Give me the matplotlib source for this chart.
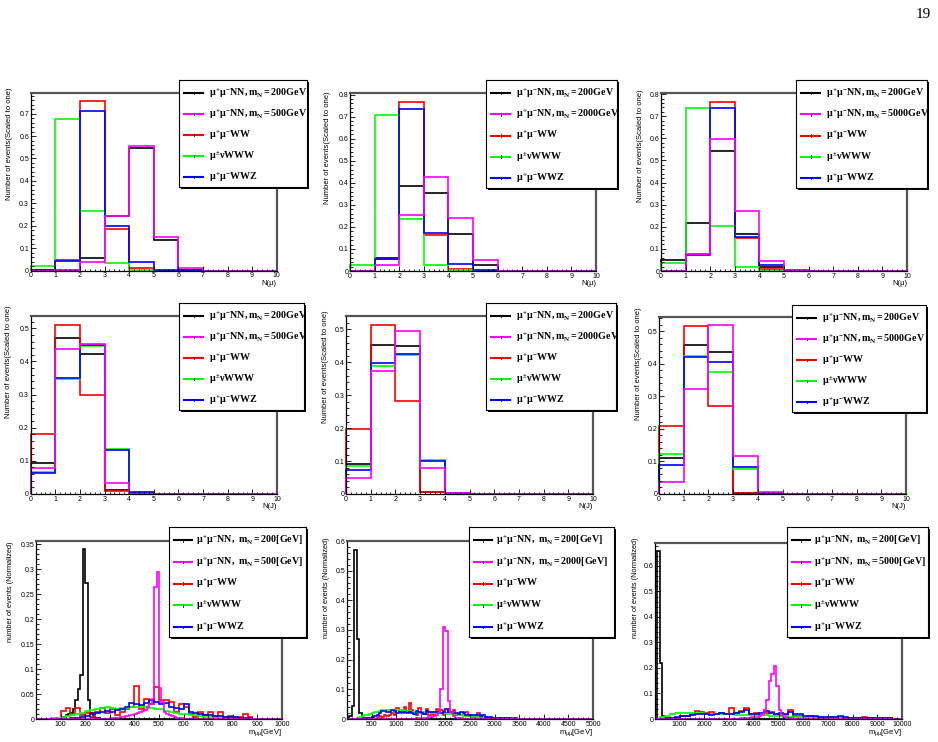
import numpy as np
import matplotlib
matplotlib.use('Agg')
import matplotlib.pyplot as plt
from matplotlib.ticker import MultipleLocator, FuncFormatter
from matplotlib.patches import Rectangle

plt.rcParams['font.family'] = ['Liberation Sans', 'DejaVu Sans']
plt.rcParams['mathtext.fontset'] = 'custom'
plt.rcParams['mathtext.rm'] = 'Liberation Serif:bold'
plt.rcParams['mathtext.it'] = 'Liberation Serif:bold'
plt.rcParams['mathtext.bf'] = 'Liberation Serif:bold'
plt.rcParams['mathtext.sf'] = 'Liberation Sans'

# ---------------- data ----------------
# row 1: N(mu), bins 0..10
nmu_p1 = {
    'nn200': [0.003, 0.003, 0.055, 0.245, 0.545, 0.135, 0.004, 0, 0, 0],
    'nnX':   [0, 0.002, 0.04, 0.245, 0.555, 0.15, 0.01, 0, 0, 0],
    'ww':    [0, 0.048, 0.755, 0.185, 0.012, 0, 0, 0, 0, 0],
    'www':   [0.02, 0.678, 0.265, 0.033, 0.002, 0, 0, 0, 0, 0],
    'wwz':   [0, 0.043, 0.71, 0.2, 0.038, 0.003, 0, 0, 0, 0],
}
nmu_p2 = {
    'nn200': [0.002, 0.06, 0.385, 0.355, 0.17, 0.027, 0.002, 0, 0, 0],
    'nnX':   [0, 0.025, 0.253, 0.425, 0.242, 0.052, 0.002, 0, 0, 0],
    'ww':    [0, 0.055, 0.768, 0.165, 0.01, 0.002, 0, 0, 0, 0],
    'www':   [0.027, 0.708, 0.236, 0.025, 0.003, 0, 0, 0, 0, 0],
    'wwz':   [0, 0.055, 0.733, 0.172, 0.032, 0.005, 0, 0, 0, 0],
}
nmu_p3 = {
    'nn200': [0.048, 0.218, 0.543, 0.168, 0.02, 0.003, 0, 0, 0, 0],
    'nnX':   [0, 0.077, 0.597, 0.273, 0.045, 0.005, 0, 0, 0, 0],
    'ww':    [0, 0.075, 0.763, 0.15, 0.01, 0, 0, 0, 0, 0],
    'www':   [0.036, 0.738, 0.205, 0.018, 0.002, 0, 0, 0, 0, 0],
    'wwz':   [0, 0.073, 0.738, 0.155, 0.025, 0.003, 0, 0, 0, 0],
}
# row 2: N(J), bins 0..10
nj_p4 = {
    'nn200': [0.093, 0.47, 0.423, 0.012, 0.002, 0, 0, 0, 0, 0],
    'nnX':   [0.077, 0.437, 0.452, 0.033, 0, 0, 0, 0, 0, 0],
    'ww':    [0.182, 0.51, 0.3, 0.008, 0, 0, 0, 0, 0, 0],
    'www':   [0.067, 0.348, 0.447, 0.135, 0.004, 0, 0, 0, 0, 0],
    'wwz':   [0.063, 0.35, 0.45, 0.132, 0.005, 0, 0, 0, 0, 0],
}
nj_p5 = {
    'nn200': [0.091, 0.453, 0.45, 0.005, 0.001, 0, 0, 0, 0, 0],
    'nnX':   [0.049, 0.373, 0.495, 0.08, 0.003, 0, 0, 0, 0, 0],
    'ww':    [0.198, 0.513, 0.284, 0.005, 0, 0, 0, 0, 0, 0],
    'www':   [0.085, 0.388, 0.422, 0.103, 0.002, 0, 0, 0, 0, 0],
    'wwz':   [0.074, 0.397, 0.427, 0.1, 0.002, 0, 0, 0, 0, 0],
}
nj_p6 = {
    'nn200': [0.11, 0.457, 0.435, 0.003, 0, 0, 0, 0, 0, 0],
    'nnX':   [0.037, 0.323, 0.518, 0.117, 0.007, 0, 0, 0, 0, 0],
    'ww':    [0.208, 0.515, 0.27, 0.004, 0, 0, 0, 0, 0, 0],
    'www':   [0.123, 0.425, 0.375, 0.076, 0.002, 0, 0, 0, 0, 0],
    'wwz':   [0.089, 0.42, 0.405, 0.084, 0.003, 0, 0, 0, 0, 0],
}

# row 3: m_mumu, (first bin low edge, bin width, values)
mll_p7 = {
    'nn200': (100, 10, [0.003, 0.005, 0.008, 0.01, 0.012, 0.02, 0.038, 0.06, 0.088, 0.34,
                        0.272, 0.038, 0.012, 0.005, 0.003, 0.002, 0.001]),
    'nnX':   (300, 10, [0.002, 0.002, 0.003, 0.003, 0.004, 0.005, 0.006, 0.007, 0.008, 0.009,
                        0.01, 0.012, 0.014, 0.016, 0.019, 0.024, 0.03, 0.04, 0.265, 0.295,
                        0.062, 0.035, 0.015, 0.01, 0.008, 0.006, 0.004, 0.003, 0.002, 0.002, 0.001]),
    'ww':    (100, 20, [0.017, 0.022, 0.01, 0.022, 0.008, 0.012, 0.005, 0.015, 0.022, 0.012,
                        0.02, 0.008, 0.015, 0.02, 0.025, 0.067, 0.02, 0.04, 0.03, 0.065,
                        0.038, 0.038, 0.035, 0.015, 0.03, 0.025, 0.01, 0.005, 0.015, 0.008,
                        0.015, 0.005, 0.015, 0.004, 0.006, 0.003, 0.005, 0.01, 0.004]),
    'www':   (60, 20, [0.002, 0.003, 0.005, 0.007, 0.009, 0.011, 0.013, 0.016, 0.018, 0.02,
                       0.022, 0.025, 0.022, 0.021, 0.022, 0.023, 0.024, 0.025, 0.024, 0.024,
                       0.023, 0.021, 0.02, 0.017, 0.015, 0.013, 0.011, 0.01, 0.009, 0.008,
                       0.007, 0.005, 0.004, 0.003, 0.003, 0.002, 0.002, 0.001, 0.001]),
    'wwz':   (140, 20, [0.002, 0.003, 0.005, 0.007, 0.01, 0.012, 0.014, 0.016, 0.015, 0.018,
                        0.02, 0.025, 0.032, 0.03, 0.028, 0.032, 0.038, 0.034, 0.03, 0.033,
                        0.025, 0.022, 0.02, 0.03, 0.015, 0.012, 0.01, 0.009, 0.008, 0.007,
                        0.006, 0.005, 0.004, 0.004, 0.003, 0.003, 0.002, 0.001]),
}
mll_p8 = {
    'nn200': (50, 50, [0.01, 0.045, 0.57, 0.27, 0.02, 0.005, 0.003, 0.002, 0.001]),
    'nnX':   (1400, 50, [0.002, 0.003, 0.003, 0.004, 0.005, 0.006, 0.007, 0.009, 0.012, 0.02,
                         0.1, 0.31, 0.295, 0.06, 0.022, 0.01, 0.005, 0.003, 0.002, 0.001]),
    'ww':    (600, 50, [0.004, 0.01, 0.008, 0.012, 0.01, 0.015, 0.02, 0.012, 0.036, 0.025,
                        0.02, 0.04, 0.025, 0.053, 0.03, 0.02, 0.015, 0.036, 0.025, 0.018,
                        0.035, 0.015, 0.02, 0.015, 0.035, 0.02, 0.03, 0.015, 0.02, 0.035,
                        0.02, 0.03, 0.015, 0.02, 0.012, 0.015, 0.022, 0.01, 0.015, 0.008,
                        0.01, 0.02, 0.008, 0.006, 0.008, 0.005, 0.004, 0.005, 0.003, 0.002,
                        0.002, 0.001, 0.002, 0.001]),
    'www':   (200, 50, [0.003, 0.006, 0.009, 0.012, 0.014, 0.016, 0.019, 0.022, 0.025, 0.027,
                        0.029, 0.03, 0.031, 0.032, 0.032, 0.031, 0.03, 0.03, 0.029, 0.028,
                        0.027, 0.026, 0.025, 0.025, 0.024, 0.024, 0.023, 0.023, 0.022, 0.022,
                        0.021, 0.021, 0.02, 0.02, 0.019, 0.019, 0.018, 0.017, 0.016, 0.015,
                        0.014, 0.013, 0.012, 0.011, 0.01, 0.01, 0.009, 0.008, 0.008, 0.007,
                        0.006, 0.006, 0.005, 0.005, 0.004, 0.004, 0.003, 0.003, 0.003, 0.002,
                        0.002, 0.002, 0.001, 0.001, 0.001]),
    'wwz':   (450, 50, [0.003, 0.006, 0.01, 0.012, 0.02, 0.028, 0.026, 0.022, 0.025, 0.03,
                        0.028, 0.02, 0.022, 0.025, 0.025, 0.02, 0.022, 0.02, 0.018, 0.027,
                        0.025, 0.02, 0.018, 0.028, 0.025, 0.024, 0.022, 0.025, 0.02, 0.02,
                        0.023, 0.035, 0.025, 0.025, 0.02, 0.02, 0.018, 0.022, 0.02, 0.015,
                        0.015, 0.012, 0.013, 0.012, 0.013, 0.01, 0.012, 0.008, 0.006, 0.006,
                        0.005, 0.004, 0.004, 0.003, 0.003, 0.002, 0.002, 0.002, 0.001, 0.002,
                        0.001, 0.001, 0.001]),
}
mll_p9 = {
    'nn200': (100, 100, [0.66, 0.22, 0.012, 0.004, 0.002]),
    'nnX':   (3500, 100, [0.002, 0.003, 0.004, 0.005, 0.006, 0.007, 0.008, 0.01, 0.02, 0.035,
                          0.074, 0.15, 0.177, 0.207, 0.13, 0.035, 0.015, 0.008, 0.005, 0.003,
                          0.002]),
    'ww':    (800, 200, [0.005, 0.01, 0.012, 0.018, 0.032, 0.028, 0.025, 0.028, 0.02, 0.022,
                          0.018, 0.045, 0.022, 0.03, 0.045, 0.02, 0.022, 0.015, 0.025, 0.028,
                          0.02, 0.012, 0.015, 0.035, 0.01, 0.012, 0.008, 0.01, 0.006, 0.008,
                          0.005, 0.006, 0.004, 0.005, 0.003, 0.004, 0.002, 0.003, 0.008, 0.003,
                          0.002, 0.002, 0.005, 0.002]),
    'www':   (200, 200, [0.006, 0.012, 0.018, 0.022, 0.025, 0.025, 0.024, 0.023, 0.022, 0.021,
                          0.02, 0.02, 0.019, 0.018, 0.018, 0.017, 0.017, 0.016, 0.016, 0.015,
                          0.015, 0.014, 0.013, 0.012, 0.011, 0.01, 0.009, 0.008, 0.007, 0.006,
                          0.005, 0.005, 0.004, 0.004, 0.003, 0.003, 0.002, 0.002, 0.002, 0.001,
                          0.001, 0.001]),
    'wwz':   (600, 200, [0.003, 0.006, 0.01, 0.012, 0.014, 0.018, 0.02, 0.018, 0.015, 0.02,
                          0.022, 0.02, 0.018, 0.025, 0.028, 0.035, 0.02, 0.02, 0.025, 0.03,
                          0.025, 0.02, 0.025, 0.018, 0.027, 0.018, 0.02, 0.012, 0.01, 0.01,
                          0.008, 0.009, 0.008, 0.007, 0.01, 0.006, 0.005, 0.005, 0.004, 0.004,
                          0.003, 0.003, 0.003, 0.002, 0.002]),
}

heavy_mass = ['500', '2000', '5000']
order = ['nn200', 'ww', 'www', 'wwz', 'nnX']     # drawing order (magenta on top)
legend_order = ['nn200', 'nnX', 'ww', 'www', 'wwz']
colors = {'nn200': '#000000', 'nnX': '#ff00ff', 'ww': '#ff0000',
          'www': '#00ff00', 'wwz': '#0000ff'}

# ---------------- layout (pixels) ----------------
W, H = 938, 742
fig = plt.figure(figsize=(W / 100, H / 100), dpi=100)

ax_boxes = [(30.7, 276.7, 92.7, 270.7), (350, 596, 93, 271), (661, 907, 93, 271),
            (30.7, 277, 316, 494), (346, 593, 316, 494), (659, 906, 317, 494),
            (36, 282, 541, 719), (347, 593, 541, 719), (655, 902, 543, 719)]
leg_boxes = [(179, 307, 80, 187), (486, 617, 80, 188), (796, 927, 80, 188),
             (179, 304, 303, 410), (486, 616, 303, 410), (792, 926, 305, 412),
             (169, 306, 527, 637), (469, 614, 527, 637), (787, 928, 527, 637)]
ylab_pos = [(10, 87), (327, 92), (640, 90), (9, 305), (325, 310), (638, 308),
            (11, 542), (326, 538), (635, 538)]
ymax = [0.793, 0.807, 0.805, 0.537, 0.541, 0.544, 0.357, 0.6, 0.69]


def px_axes(box):
    l, r, t, b = box
    return fig.add_axes([l / W, 1 - b / H, (r - l) / W, (b - t) / H])


fmt = FuncFormatter(lambda v, p: '%g' % round(v, 4))


def style_axes(ax):
    for s in ['left', 'bottom']:
        ax.spines[s].set_linewidth(0.9)
    for s in ['top', 'right']:
        ax.spines[s].set_color('#555555')
        ax.spines[s].set_linewidth(1.6)
    ax.tick_params(which='both', direction='in', top=False, right=False,
                   labelsize=5, pad=1.2, width=0.6)
    ax.tick_params(which='major', length=3.6)
    ax.tick_params(which='minor', length=1.8)
    ax.yaxis.set_major_formatter(fmt)


def draw_legend(box, labels, line_end, text_x):
    l, r, t, b = box
    w, h = r - l, b - t
    fig.add_artist(Rectangle(((l + 2) / W, 1 - (b + 2) / H), w / W, h / H,
                             transform=fig.transFigure, facecolor='black',
                             edgecolor='none', zorder=4))
    lax = px_axes(box)
    lax.set_zorder(5)
    lax.set_xlim(0, w)
    lax.set_ylim(h, 0)
    lax.set_xticks([])
    lax.set_yticks([])
    for s in lax.spines.values():
        s.set_linewidth(0.8)
    for i, key in enumerate(legend_order):
        y = h * (0.12 + 0.197 * i)
        lax.plot([5, line_end], [y, y], color=colors[key], lw=1.5)
        xm = (5 + line_end) / 2
        lax.plot([xm, xm], [y - 1.3, y + 1.3], color='k', lw=0.6)
        lax.text(text_x, y, labels[i], fontsize=7.2, va='center', ha='left')


top_data = [nmu_p1, nmu_p2, nmu_p3, nj_p4, nj_p5, nj_p6]
bot_data = [mll_p7, mll_p8, mll_p9]
xmax_bot = [1000, 5000, 10000]
xstep_bot = [100, 500, 1000]

for k in range(9):
    ax = px_axes(ax_boxes[k])
    style_axes(ax)
    col = k % 3
    m = heavy_mass[col]
    if k < 6:
        data = top_data[k]
        edges = np.arange(11)
        for key in order:
            ax.stairs(data[key], edges, color=colors[key], lw=1.2, baseline=0,
                      clip_on=False)
        ax.set_xlim(0, 10)
        ax.set_xticks(np.arange(0, 11, 1))
        ax.xaxis.set_minor_locator(MultipleLocator(0.2))
        ax.yaxis.set_major_locator(MultipleLocator(0.1))
        ax.yaxis.set_minor_locator(MultipleLocator(0.02))
        ylab = 'Number of events(Scaled to one)'
        ylab_size = 5.5
        xlab = 'N(μ)' if k < 3 else 'N(J)'
        xlab_off = 9
        labels = [r'$\mu^{+}\mu^{-}NN,m_{N}=200GeV$',
                  r'$\mu^{+}\mu^{-}NN,m_{N}=%sGeV$' % m,
                  r'$\mu^{+}\mu^{-}WW$', r'$\mu^{\pm}\nu WWW$', r'$\mu^{+}\mu^{-}WWZ$']
        draw_legend(leg_boxes[k], labels, 24, 30)
    else:
        j = k - 6
        data = bot_data[j]
        xmax = xmax_bot[j]
        for key in order:
            start, width, vals = data[key]
            n = int(round(xmax / width))
            full = np.zeros(n)
            i0 = int(round(start / width))
            full[i0:i0 + len(vals)] = vals
            ax.stairs(full, np.linspace(0, xmax, n + 1), color=colors[key],
                      lw=1.2, baseline=0, clip_on=False)
        ax.set_xlim(0, xmax)
        ax.set_xticks(np.arange(xstep_bot[j], xmax + 1, xstep_bot[j]))
        ax.xaxis.set_minor_locator(MultipleLocator(xstep_bot[j] / 5))
        if j == 0:
            ax.yaxis.set_major_locator(MultipleLocator(0.05))
            ax.yaxis.set_minor_locator(MultipleLocator(0.01))
        else:
            ax.yaxis.set_major_locator(MultipleLocator(0.1))
            ax.yaxis.set_minor_locator(MultipleLocator(0.02))
        ylab = 'number of events (Normalized)'
        ylab_size = 5.3
        xlab = r'$\mathsf{m_{\mu\mu}[GeV]}$'
        xlab_off = 8.5
        labels = [r'$\mu^{+}\mu^{-}NN,\ m_{N}=200[GeV]$',
                  r'$\mu^{+}\mu^{-}NN,\ m_{N}=%s[GeV]$' % m,
                  r'$\mu^{+}\mu^{-}WW$', r'$\mu^{\pm}\nu WWW$', r'$\mu^{+}\mu^{-}WWZ$']
        draw_legend(leg_boxes[k], labels, 23, 27)
    ax.set_ylim(0, ymax[k])

    l, r, t, b = ax_boxes[k]
    fig.text(r / W, 1 - (b + xlab_off) / H, xlab, fontsize=5.5, ha='right', va='top')
    xl, yt = ylab_pos[k]
    fig.text(xl / W, 1 - yt / H, ylab, fontsize=ylab_size, rotation=90,
             ha='center', va='top')

fig.text(931 / W, 1 - 8 / H, '19', fontsize=11, family='Liberation Serif',
         ha='right', va='top')

fig.savefig('out.png', dpi=100)
